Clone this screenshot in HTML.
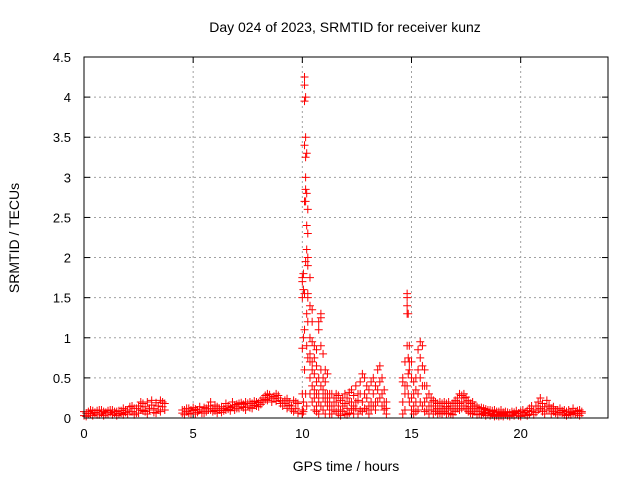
<!DOCTYPE html>
<html><head><meta charset="utf-8">
<style>
body{margin:0;background:#fff;}
svg{display:block;font-family:"Liberation Sans",sans-serif;}
</style></head>
<body>
<svg id="chart" width="640" height="480" viewBox="0 0 640 480">
<rect width="640" height="480" fill="#fff"/>
<text x="345" y="32" font-size="14" text-anchor="middle">Day 024 of 2023, SRMTID for receiver kunz</text>
<text x="346" y="471" font-size="14" text-anchor="middle">GPS time / hours</text>
<text transform="translate(19,238) rotate(-90)" font-size="14" text-anchor="middle">SRMTID / TECUs</text>
<g id="grid"></g>
<g id="axes"></g>
<g id="points"></g>
<rect x="84" y="57" width="524" height="361" fill="none" stroke="#000" stroke-width="1"/>
</svg>
<script>
const xTicks=[0,5,10,15,20];
const yTicks=[0,0.5,1,1.5,2,2.5,3,3.5,4,4.5];
const yTickLabels=["0","0.5","1","1.5","2","2.5","3","3.5","4","4.5"];
const sampleTimes=[
0.0,0.1,0.2,0.3,0.4,0.5,0.6,0.7,0.8,0.9,1.0,1.1,1.2,1.3,1.4,1.5,1.6,1.7,1.8,1.9,2.0,2.1,2.2,2.3,2.4,2.5,2.6,2.7,2.8,2.9,3.0,3.1,3.2,3.3,3.4,3.5,3.6,3.7,
4.5,4.6,4.7,4.8,4.9,5.0,5.1,5.2,5.3,5.4,5.5,5.6,5.7,5.8,5.9,6.0,6.1,6.2,6.3,6.4,6.5,6.6,6.7,6.8,6.9,7.0,7.1,7.2,7.3,7.4,7.5,7.6,7.7,7.8,7.9,8.0,8.1,8.2,8.3,8.4,8.5,8.6,8.7,8.8,8.9,9.0,9.1,9.2,9.3,9.4,9.5,9.6,9.7,9.8,
10.0,10.05,10.1,10.15,10.2,10.25,10.35,10.45,10.55,10.65,10.75,10.85,10.95,11.05,11.15,11.25,
11.35,11.45,11.55,11.65,11.75,11.85,11.95,12.05,12.15,12.25,12.35,12.45,12.55,12.65,12.75,12.85,12.95,13.05,13.15,13.25,13.35,13.45,13.55,13.65,13.75,13.85,
14.6,14.7,14.8,14.85,14.9,15.0,15.1,15.2,15.3,15.4,15.5,15.6,15.7,15.8,15.9,16.0,16.1,16.2,
16.3,16.4,16.5,16.6,16.7,16.8,16.9,17.0,17.1,17.2,17.3,17.4,17.5,17.6,17.7,17.8,17.9,18.0,18.1,18.2,18.3,18.4,18.5,18.6,18.7,18.8,18.9,19.0,19.1,19.2,19.3,19.4,19.5,19.6,19.7,19.8,19.9,20.0,20.1,20.2,20.3,20.4,20.5,20.6,20.7,20.8,20.9,21.0,21.1,21.2,21.3,21.4,21.5,21.6,21.7,21.8,21.9,22.0,22.1,22.2,22.3,22.4,22.5,22.6,22.7,22.8];
const sampleValues=[
[.03,.08],[.06,.02],[.08,.05],[.05,.1],[.09,.03],[.07,.06],[.04,.09],[.1,.04],[.06,.1],[.08,.03],[.05,.07],[.09,.05],[.07,.1],[.1,.04],[.06,.08],[.08,.03],[.05,.09],[.09,.06],[.12,.04],[.07,.1],[.1,.05],[.14,.08],[.08,.15],[.12,.04],[.06,.12],[.15,.06],[.1,.2],[.18,.09],[.08,.14],[.2,.05],[.12,.1],[.16,.22],[.07,.12],[.19,.06],[.1,.15],[.22,.08],[.14,.2],[.18,.1],
[.06,.1],[.1,.04],[.08,.12],[.12,.06],[.05,.1],[.09,.13],[.11,.05],[.07,.1],[.1,.14],[.06,.08],[.13,.06],[.08,.12],[.1,.15],[.2,.1],[.12,.08],[.09,.16],[.14,.06],[.1,.12],[.07,.14],[.12,.09],[.1,.18],[.15,.11],[.13,.09],[.2,.14],[.16,.1],[.12,.17],[.18,.12],[.14,.19],[.17,.13],[.2,.1],[.15,.18],[.13,.2],[.18,.12],[.16,.21],[.2,.15],[.14,.19],[.22,.17],[.25,.2],[.28,.23],[.3,.22],[.26,.29],[.24,.2],[.27,.24],[.3,.21],[.25,.28],[.22,.18],[.2,.15],[.18,.22],[.24,.12],[.2,.16],[.15,.1],[.22,.08],[.12,.2],[.18,.06],
[1.75,1.7,1.5,.87,.3,.1,.05],[1.8,1.6,1.0,.2,.08],[3.95,4.25,4.15,3.4,2.7,1.55,1.1,.6],[4.0,3.5,3.25,3.0,2.85,2.7,1.95,.3],[3.3,2.8,2.4,2.1,1.3,.9,.15],[2.6,2.3,2.0,1.9,1.55,1.5,1.2,.75],[1.75,1.4,1.0,.8,.7,.5,.3],[1.35,1.2,.95,.7,.6,.4,.2],[.9,.75,.55,.35,.25,.1],[.85,.65,.45,.3,.15,.08],[1.2,1.1,.5,.3,.2,.05],[1.3,1.25,.9,.6,.4,.15],[.8,.5,.35,.25,.1],[.6,.45,.3,.2,.05],[.55,.3,.15,.25],[.3,.2,.1,.05],
[.3,.15,.05],[.25,.1,.2],[.2,.08,.3],[.15,.28,.05],[.1,.22,.03],[.25,.08,.15],[.18,.05,.3],[.12,.25,.04],[.2,.06,.32],[.35,.1,.2],[.15,.28,.05],[.4,.12,.2],[.22,.05,.3],[.3,.45,.1],[.55,.2,.08],[.5,.3,.12],[.25,.1,.4],[.35,.15,.05],[.2,.45,.1],[.3,.5,.15],[.4,.2,.1],[.6,.35,.2],[.65,.45,.25],[.5,.3,.15],[.35,.1,.2],[.2,.05,.12],
[.5,.45,.2,.05],[.7,.4,.3,.1],[1.5,1.55,1.4,1.3,.9,.4],[1.3,.75,.55,.3],[.9,.7,.6,.2],[.7,.5,.25,.1],[.45,.3,.15,.05],[.5,.35,.2,.08],[.85,.6,.3,.1],[.95,.75,.5,.2],[.9,.65,.4,.15],[.6,.4,.2,.08],[.4,.25,.1],[.3,.15,.05],[.25,.1,.2],[.15,.05,.22],[.2,.1,.08],[.12,.18,.05],
[.15,.06,.2],[.1,.18,.05],[.2,.08,.12],[.14,.05,.18],[.1,.2,.06],[.12,.05,.15],[.18,.1,.04],[.15,.22,.08],[.25,.12,.2],[.3,.18,.1],[.28,.2,.12],[.25,.15,.3],[.2,.1,.26],[.22,.12,.08],[.18,.06,.14],[.12,.2,.05],[.16,.08,.1],[.1,.14,.04],[.12,.05,.08],[.08,.13,.04],[.1,.06,.12],[.07,.11,.03],[.09,.05,.1],[.06,.1,.03],[.08,.04,.09],[.05,.1,.02],[.07,.03,.08],[.04,.08,.02],[.06,.1,.03],[.05,.02,.07],[.08,.04],[.03,.07],[.06,.02],[.04,.08],[.07,.03],[.05,.09],[.03,.06],[.08,.02],[.06,.1],[.04,.07],[.09,.03],[.12,.05],[.08,.15],[.1,.04],[.15,.07],[.2,.1],[.25,.12],[.18,.08],[.14,.05],[.22,.1],[.1,.16],[.12,.05],[.08,.14],[.06,.1],[.1,.04],[.12,.07],[.06,.09],[.04,.1],[.08,.03],[.05,.1],[.07,.04],[.12,.06],[.08,.05],[.05,.09],[.1,.03],[.06,.08],[.04,.07],[.08,.03],[.05,.06],[.06,.02]];

const X0=84,X1=608,Y0=418,Y1=57,XMAX=24,YMAX=4.5;
function xs(t){return X0+(X1-X0)*t/XMAX;}
function ys(v){return Y0-(Y0-Y1)*v/YMAX;}
const NS="http://www.w3.org/2000/svg";
const grid=document.getElementById('grid'),axes=document.getElementById('axes'),pts=document.getElementById('points');
function mk(tag,attrs,parent){const e=document.createElementNS(NS,tag);for(const k in attrs)e.setAttribute(k,attrs[k]);parent.appendChild(e);return e;}
xTicks.forEach(t=>{
  const x=xs(t);
  if(t>0){const g=mk('line',{x1:x,x2:x,y1:Y0,y2:Y1,stroke:'#a0a0a0','stroke-dasharray':'2,3'},grid);
  
  }
  mk('line',{x1:x,x2:x,y1:Y0,y2:Y0-6,stroke:'#000'},axes);
  mk('line',{x1:x,x2:x,y1:Y1,y2:Y1+6,stroke:'#000'},axes);
  const l=mk('text',{x:x,y:Y0+20,'font-size':13,'text-anchor':'middle'},axes);
  l.textContent=String(t);
  
  
});
yTicks.forEach((v,i)=>{
  const y=ys(v);
  if(v>0&&v<YMAX){const g=mk('line',{x1:X0,x2:X1,y1:y,y2:y,stroke:'#a0a0a0','stroke-dasharray':'2,3'},grid);
  
  }
  mk('line',{x1:X0,x2:X0+6,y1:y,y2:y,stroke:'#000'},axes);
  mk('line',{x1:X1,x2:X1-6,y1:y,y2:y,stroke:'#000'},axes);
  const l=mk('text',{x:X0-13,y:y+5,'font-size':13,'text-anchor':'end'},axes);
  l.textContent=yTickLabels[i];
  
  
});
let d='';
sampleTimes.forEach((t,i)=>{
  const x=xs(t);
  sampleValues[i].forEach(v=>{const y=ys(v);d+=`M${x-4},${y}h8M${x},${y-4}v8`;});
});
const p=mk('path',{d:d,stroke:'#ff0000','stroke-width':1,fill:'none'},pts);


</script>
</body></html>
